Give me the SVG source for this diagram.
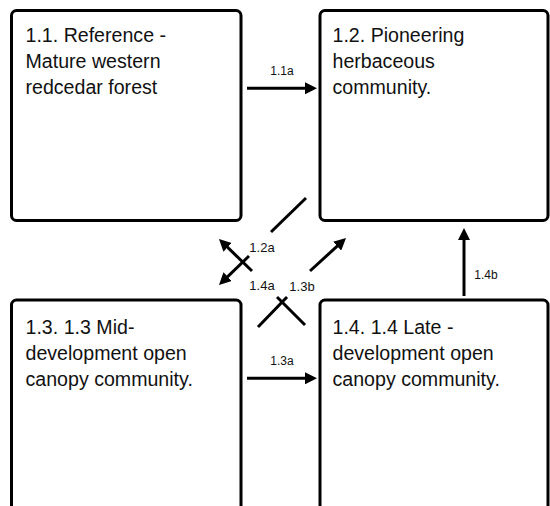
<svg xmlns="http://www.w3.org/2000/svg" width="550" height="506" viewBox="0 0 550 506">
  <style>
    .box { fill: #ffffff; stroke: #000000; stroke-width: 3; }
    .title { font-family: "Liberation Sans", Arial, sans-serif; font-size: 19.6px; fill: #111111; }
    .lbl { font-family: "Liberation Sans", Arial, sans-serif; fill: #111111; text-anchor: middle; }
    .conn { stroke: #000000; stroke-width: 3; fill: none; }
  </style>
  <defs>
    <marker id="arrow" markerUnits="userSpaceOnUse" viewBox="0 0 12 12" markerWidth="12" markerHeight="12" refX="6" refY="6" orient="auto">
      <path d="M0,0 L12,6 L0,12 z" fill="#000000"/>
    </marker>
  </defs>
  <rect width="550" height="506" fill="#ffffff"/>

  <g id="node-1-1">
    <rect class="box" x="11.5" y="10.5" width="229.5" height="210" rx="5"/>
    <text class="title" x="25.5" y="42">1.1. Reference -</text>
    <text class="title" x="25.5" y="68">Mature western</text>
    <text class="title" x="25.5" y="94">redcedar forest</text>
  </g>

  <g id="node-1-2">
    <rect class="box" x="320" y="10.5" width="228" height="210" rx="5"/>
    <text class="title" x="332.5" y="42">1.2. Pioneering</text>
    <text class="title" x="332.5" y="68">herbaceous</text>
    <text class="title" x="332.5" y="94">community.</text>
  </g>

  <g id="node-1-3">
    <rect class="box" x="11.5" y="300" width="229.5" height="230" rx="5"/>
    <text class="title" x="25.5" y="334">1.3. 1.3 Mid-</text>
    <text class="title" x="25.5" y="360">development open</text>
    <text class="title" x="25.5" y="386">canopy community.</text>
  </g>

  <g id="node-1-4">
    <rect class="box" x="320" y="300" width="228" height="230" rx="5"/>
    <text class="title" x="332.5" y="334">1.4. 1.4 Late -</text>
    <text class="title" x="332.5" y="360">development open</text>
    <text class="title" x="332.5" y="386">canopy community.</text>
  </g>

  <g id="connectors">
    <!-- 1.1a -->
    <line class="conn" x1="247" y1="88.3" x2="311" y2="88.3" marker-end="url(#arrow)"/>
    <text class="lbl" x="282" y="75" font-size="12">1.1a</text>
    <!-- 1.3a -->
    <line class="conn" x1="247" y1="378.3" x2="311" y2="378.3" marker-end="url(#arrow)"/>
    <text class="lbl" x="282" y="365" font-size="12">1.3a</text>
    <!-- 1.4b -->
    <line class="conn" x1="464" y1="296" x2="464" y2="234" marker-end="url(#arrow)"/>
    <text class="lbl" x="486" y="279" font-size="12">1.4b</text>
    <!-- 1.2a -->
    <line class="conn" x1="306" y1="198" x2="271" y2="232"/>
    <line class="conn" x1="249" y1="256" x2="223.3" y2="280.8" marker-end="url(#arrow)"/>
    <text class="lbl" x="262" y="252" font-size="13">1.2a</text>
    <!-- 1.4a -->
    <line class="conn" x1="305" y1="325" x2="277" y2="297"/>
    <line class="conn" x1="252" y1="271" x2="223.3" y2="243.2" marker-end="url(#arrow)"/>
    <text class="lbl" x="262" y="290" font-size="13">1.4a</text>
    <!-- 1.3b -->
    <line class="conn" x1="258" y1="327" x2="287" y2="297"/>
    <line class="conn" x1="310" y1="271" x2="341.6" y2="242.1" marker-end="url(#arrow)"/>
    <text class="lbl" x="302" y="290.5" font-size="13">1.3b</text>
  </g>
</svg>
